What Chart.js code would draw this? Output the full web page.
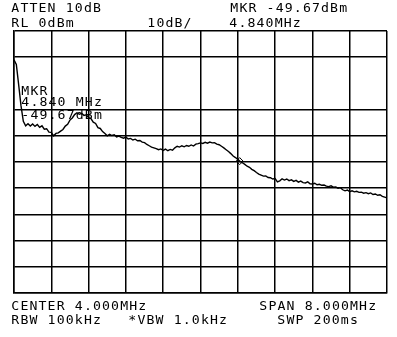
<!DOCTYPE html>
<html>
<head>
<meta charset="utf-8">
<script src="https://cdn.jsdelivr.net/npm/chart.js@4"></script>
<style>
  body { margin: 0; background: #fff; }
  #wrap { width: 397px; height: 337px; }
</style>
</head>
<body>
<div id="wrap"><canvas id="saChart" width="397" height="337"></canvas></div>
<script>
// Sweep: 0 - 8 MHz, one reading every 0.05 MHz
const sweepStartMHz = 0;
const sweepStepMHz = 0.05;
const levelDbm = [
  -11.0, -12.8, -20.5, -28.5, -34.5, -36.2, -35.4, -36.3, -35.5, -36.4,
  -35.7, -36.8, -36.2, -37.5, -37.3, -38.6, -38.7, -40.0, -39.1, -38.9,
  -38.2, -37.6, -36.3, -35.6, -34.0, -33.2, -31.9, -31.2, -31.8, -31.4,
  -32.2, -32.0, -33.1, -33.4, -34.8, -35.3, -36.9, -37.2, -38.4, -39.1,
  -40.0, -39.4, -39.9, -39.6, -40.4, -40.1, -40.6, -40.9, -40.5, -41.2,
  -41.0, -41.6, -41.3, -41.9, -41.8, -42.4, -42.6, -43.3, -43.8, -44.3,
  -44.6, -44.9, -45.3, -45.0, -45.6, -45.1, -45.7, -45.2, -45.5, -44.6,
  -44.0, -44.3, -43.8, -44.2, -43.7, -44.0, -43.5, -43.9, -43.2, -43.0,
  -42.7, -42.9, -42.5, -42.8, -42.4, -42.7, -42.6, -43.2, -43.4, -44.0,
  -44.6, -45.3, -46.0, -46.8, -47.7, -48.3, -49.0, -49.8, -50.3, -50.9,
  -51.6, -52.0, -52.8, -53.3, -54.0, -54.6, -55.0, -55.4, -55.3, -55.9,
  -56.0, -56.5, -56.3, -57.6, -57.2, -56.4, -56.9, -56.5, -57.1, -56.8,
  -57.4, -57.0, -57.7, -57.3, -57.9, -58.0, -57.6, -58.3, -58.4, -58.1,
  -58.7, -58.5, -58.9, -58.8, -59.2, -59.4, -59.1, -59.6, -59.5, -60.0,
  -59.8, -60.6, -61.0, -60.7, -61.3, -61.0, -61.4, -61.2, -61.6, -61.5,
  -61.9, -61.7, -62.1, -61.8, -62.4, -62.2, -62.7, -62.5, -63.1, -63.4,
  -63.7
];
const markerMHz = [4.84];
const markerDbm = [-49.67];

// annotation text: [text, left x, baseline y]
const labels = [
  ['ATTEN 10dB', 11, 12],
  ['RL 0dBm', 11, 27],
  ['10dB/', 147, 27],
  ['MKR -49.67dBm', 230, 12],
  ['4.840MHz', 229, 27],
  ['MKR', 21, 95],
  ['4.840 MHz', 21, 106],
  ['-49.67dBm', 21, 119],
  ['CENTER 4.000MHz', 11, 310],
  ['SPAN 8.000MHz', 259, 310],
  ['RBW 100kHz', 11, 324],
  ['*VBW 1.0kHz', 128, 324],
  ['SWP 200ms', 277, 324]
];

const tracePoints = levelDbm.map((v, i) => ({ x: sweepStartMHz + i * sweepStepMHz, y: v }));

const plotterText = {
  id: 'plotterText',
  afterDraw(chart) {
    const c = chart.ctx;
    c.save();
    c.fillStyle = '#000';
    c.font = '12px "DejaVu Sans Mono"';
    c.textAlign = 'center';
    c.textBaseline = 'alphabetic';
    labels.forEach(([t, x, y]) => {
      for (let i = 0; i < t.length; i++) {
        c.save();
        c.translate(x + i * 9.07 + 4.3, y);
        c.scale(1.1, 1);
        c.fillText(t[i], 0, 0);
        c.restore();
      }
    });
    c.restore();
  }
};

const ctx = document.getElementById('saChart').getContext('2d');
new Chart(ctx, {
  type: 'line',
  data: {
    datasets: [{
      data: tracePoints,
      borderColor: '#000',
      borderWidth: 1.4,
      pointRadius: 0,
      tension: 0
    }, {
      data: markerMHz.map((f, i) => ({ x: f, y: markerDbm[i] })),
      showLine: false,
      pointStyle: 'rectRot',
      pointRadius: 3.5,
      borderColor: '#000',
      borderWidth: 1,
      backgroundColor: 'rgba(0,0,0,0)'
    }]
  },
  options: {
    responsive: false,
    animation: false,
    layout: { padding: { left: 14, right: 10, top: 31, bottom: 44 } },
    plugins: { legend: { display: false }, tooltip: { enabled: false } },
    scales: {
      x: {
        type: 'linear', min: 0, max: 8,
        ticks: { display: false, stepSize: 0.8 },
        grid: { color: '#000', lineWidth: 1.5, drawTicks: false, tickLength: 0 },
        border: { display: true, color: '#000', width: 1.5 }
      },
      y: {
        min: -100, max: 0,
        ticks: { display: false, stepSize: 10 },
        grid: {
          color: c => c.tick && c.tick.value === -20 ? 'rgba(0,0,0,0)' : '#000',
          lineWidth: 1.5, drawTicks: false, tickLength: 0
        },
        border: { display: true, color: '#000', width: 1.5 }
      }
    }
  },
  plugins: [plotterText]
});
</script>
</body>
</html>
